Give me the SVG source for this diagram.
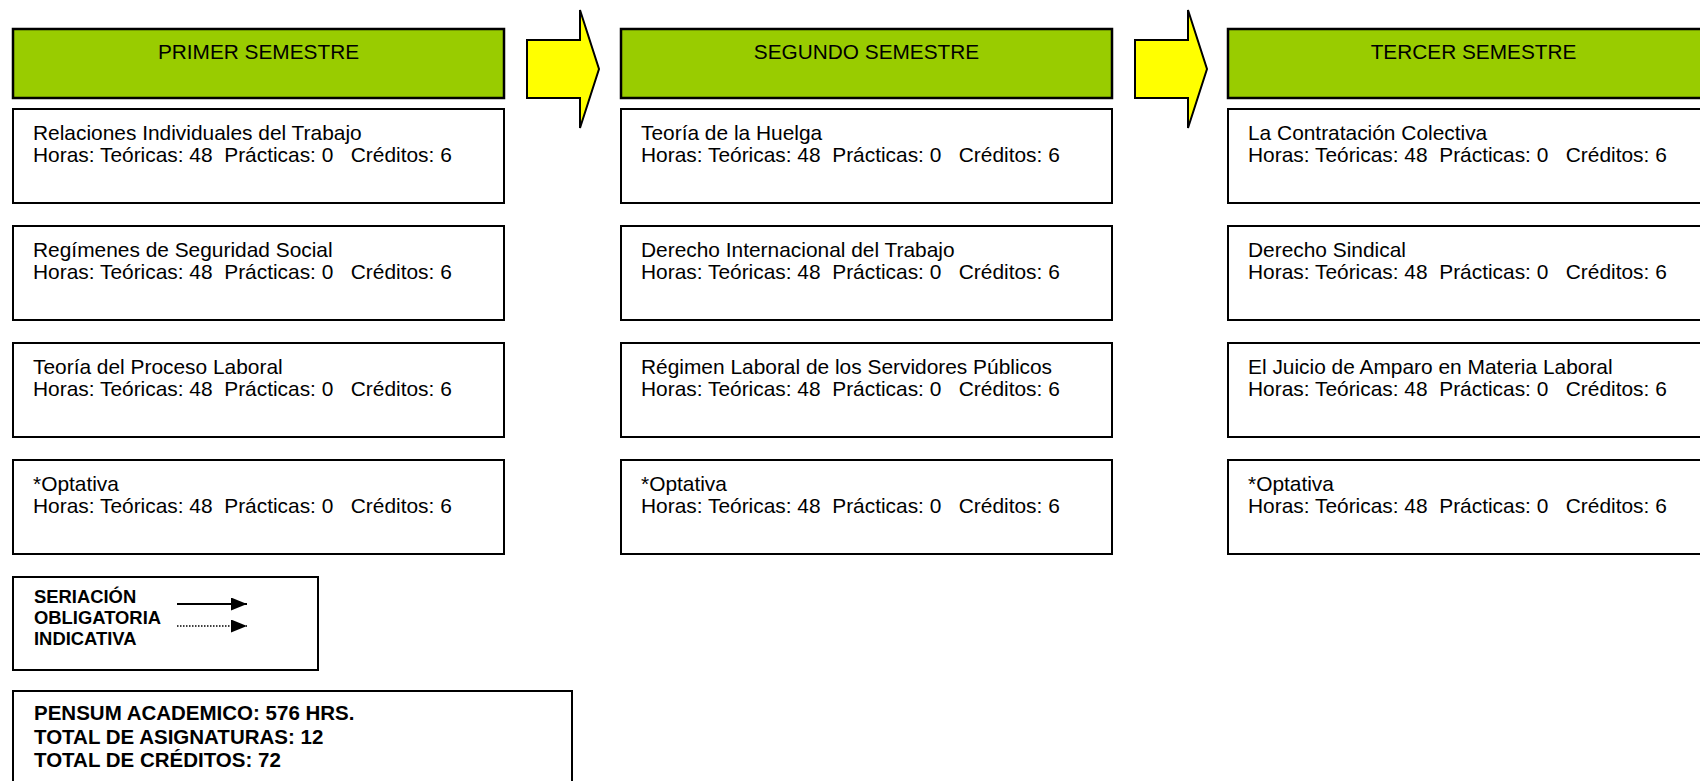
<svg xmlns="http://www.w3.org/2000/svg" width="1700" height="781" viewBox="0 0 1700 781">
<style>
.hdr{fill:#99CC00;stroke:#000;stroke-width:2.5}
.box{fill:#fff;stroke:#000;stroke-width:2}
.arr{fill:#FFFF00;stroke:#000;stroke-width:2;stroke-linejoin:miter}
.ht{font-family:"Liberation Sans",Arial,sans-serif;font-size:20.8px;fill:#000;text-anchor:middle}
.t{font-family:"Liberation Sans",Arial,sans-serif;font-size:20.9px;fill:#000}
.lg{font-family:"Liberation Sans",Arial,sans-serif;font-size:18.4px;font-weight:bold;fill:#000}
.sm{font-family:"Liberation Sans",Arial,sans-serif;font-size:20.5px;font-weight:bold;fill:#000}
</style>
<defs>
<marker id="ah" markerWidth="16" markerHeight="13" refX="16" refY="6.5" orient="auto" markerUnits="userSpaceOnUse">
<path d="M0,0 L16,6.5 L0,13 Z" fill="#000"/>
</marker>
</defs>
<rect width="1700" height="781" fill="#fff"/>

<g id="col1">
<g id="h1"><rect class="hdr" x="13" y="29" width="491" height="69"/><text class="ht" x="258.5" y="59">PRIMER SEMESTRE</text></g>
<g id="n1a"><rect class="box" x="13" y="109" width="491" height="94"/><text class="t" x="33" y="140">Relaciones Individuales del Trabajo</text><text class="t" x="33" y="162" xml:space="preserve">Horas: Teóricas: 48  Prácticas: 0   Créditos: 6</text></g>
<g id="n1b"><rect class="box" x="13" y="226" width="491" height="94"/><text class="t" x="33" y="257">Regímenes de Seguridad Social</text><text class="t" x="33" y="279" xml:space="preserve">Horas: Teóricas: 48  Prácticas: 0   Créditos: 6</text></g>
<g id="n1c"><rect class="box" x="13" y="343" width="491" height="94"/><text class="t" x="33" y="374">Teoría del Proceso Laboral</text><text class="t" x="33" y="396" xml:space="preserve">Horas: Teóricas: 48  Prácticas: 0   Créditos: 6</text></g>
<g id="n1d"><rect class="box" x="13" y="460" width="491" height="94"/><text class="t" x="33" y="491">*Optativa</text><text class="t" x="33" y="513" xml:space="preserve">Horas: Teóricas: 48  Prácticas: 0   Créditos: 6</text></g>
</g>

<g id="col2">
<g id="h2"><rect class="hdr" x="621" y="29" width="491" height="69"/><text class="ht" x="866.5" y="59">SEGUNDO SEMESTRE</text></g>
<g id="n2a"><rect class="box" x="621" y="109" width="491" height="94"/><text class="t" x="641" y="140">Teoría de la Huelga</text><text class="t" x="641" y="162" xml:space="preserve">Horas: Teóricas: 48  Prácticas: 0   Créditos: 6</text></g>
<g id="n2b"><rect class="box" x="621" y="226" width="491" height="94"/><text class="t" x="641" y="257">Derecho Internacional del Trabajo</text><text class="t" x="641" y="279" xml:space="preserve">Horas: Teóricas: 48  Prácticas: 0   Créditos: 6</text></g>
<g id="n2c"><rect class="box" x="621" y="343" width="491" height="94"/><text class="t" x="641" y="374">Régimen Laboral de los Servidores Públicos</text><text class="t" x="641" y="396" xml:space="preserve">Horas: Teóricas: 48  Prácticas: 0   Créditos: 6</text></g>
<g id="n2d"><rect class="box" x="621" y="460" width="491" height="94"/><text class="t" x="641" y="491">*Optativa</text><text class="t" x="641" y="513" xml:space="preserve">Horas: Teóricas: 48  Prácticas: 0   Créditos: 6</text></g>
</g>

<g id="col3">
<g id="h3"><rect class="hdr" x="1228" y="29" width="491" height="69"/><text class="ht" x="1473.5" y="59">TERCER SEMESTRE</text></g>
<g id="n3a"><rect class="box" x="1228" y="109" width="491" height="94"/><text class="t" x="1248" y="140">La Contratación Colectiva</text><text class="t" x="1248" y="162" xml:space="preserve">Horas: Teóricas: 48  Prácticas: 0   Créditos: 6</text></g>
<g id="n3b"><rect class="box" x="1228" y="226" width="491" height="94"/><text class="t" x="1248" y="257">Derecho Sindical</text><text class="t" x="1248" y="279" xml:space="preserve">Horas: Teóricas: 48  Prácticas: 0   Créditos: 6</text></g>
<g id="n3c"><rect class="box" x="1228" y="343" width="491" height="94"/><text class="t" x="1248" y="374">El Juicio de Amparo en Materia Laboral</text><text class="t" x="1248" y="396" xml:space="preserve">Horas: Teóricas: 48  Prácticas: 0   Créditos: 6</text></g>
<g id="n3d"><rect class="box" x="1228" y="460" width="491" height="94"/><text class="t" x="1248" y="491">*Optativa</text><text class="t" x="1248" y="513" xml:space="preserve">Horas: Teóricas: 48  Prácticas: 0   Créditos: 6</text></g>
</g>

<g id="connectors">
<polygon class="arr" points="527,40 580,40 580,10 599,69 580,128 580,98 527,98"/>
<polygon class="arr" points="1135,40 1188,40 1188,10 1207,69 1188,128 1188,98 1135,98"/>
</g>

<g id="legend">
<rect class="box" x="13" y="577" width="305" height="93"/>
<text class="lg" x="34" y="603">SERIACIÓN</text>
<text class="lg" x="34" y="624">OBLIGATORIA</text>
<text class="lg" x="34" y="645">INDICATIVA</text>
<line x1="177" y1="604" x2="247" y2="604" stroke="#000" stroke-width="2" marker-end="url(#ah)"/>
<line x1="177" y1="626" x2="247" y2="626" stroke="#000" stroke-width="1.5" stroke-dasharray="1.5,1.5" marker-end="url(#ah)"/>
</g>

<g id="summary">
<rect class="box" x="13" y="691" width="559" height="110"/>
<text class="sm" x="34" y="720">PENSUM ACADEMICO: 576 HRS.</text>
<text class="sm" x="34" y="744">TOTAL DE ASIGNATURAS: 12</text>
<text class="sm" x="34" y="767">TOTAL DE CRÉDITOS: 72</text>
</g>
</svg>
